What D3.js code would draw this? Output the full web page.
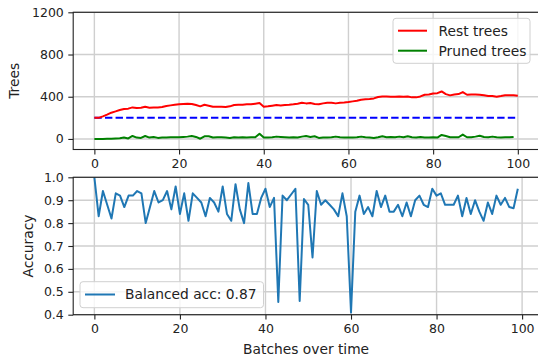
<!DOCTYPE html>
<html><head><meta charset="utf-8">
<script src="https://cdn.jsdelivr.net/npm/d3@7/dist/d3.min.js"></script>
<style>
html,body{margin:0;padding:0;background:#fff;overflow:hidden;}
svg{display:block;font-family:"DejaVu Sans",sans-serif;}
</style></head><body>
<svg id="c" width="538" height="362"></svg>
<script>
const restTrees = [200,200,214,230,249,261,274,283,287,299,293,296,305,296,299,299,302,312,318,324,328,331,334,331,321,309,324,315,305,305,305,302,309,321,324,324,328,328,334,340,305,309,315,321,318,321,324,328,334,343,337,340,331,328,337,343,343,337,343,346,350,356,362,372,375,378,384,397,403,403,400,400,403,400,403,394,394,403,419,422,431,434,450,425,413,422,425,444,419,422,422,419,413,406,406,400,406,413,413,413,409];
const prunedTrees = [0,0,0,2,3,5,6,13,5,28,13,10,28,13,19,10,13,13,16,16,16,19,22,28,19,2,25,25,13,16,16,13,10,16,13,16,13,16,16,50,13,13,16,22,19,16,13,16,13,22,28,19,25,10,13,13,16,22,16,13,13,13,16,22,16,13,10,16,25,16,19,16,22,16,25,16,13,19,13,13,16,13,38,28,16,16,16,41,16,16,22,31,19,16,22,16,13,16,16,19];
const threshold = 200;
const accuracy = [1.0,0.83,0.94,0.88,0.82,0.93,0.92,0.87,0.92,0.92,0.94,0.93,0.80,0.87,0.94,0.89,0.90,0.94,0.86,0.96,0.84,0.93,0.81,0.93,0.91,0.89,0.83,0.91,0.89,0.85,0.96,0.84,0.81,0.97,0.86,0.80,0.975,0.84,0.84,0.91,0.95,0.87,0.91,0.456,0.92,0.90,0.925,0.95,0.46,0.905,0.88,0.65,0.94,0.88,0.90,0.88,0.86,0.83,0.93,0.83,0.41,0.85,0.92,0.84,0.87,0.83,0.94,0.87,0.92,0.85,0.85,0.88,0.83,0.89,0.83,0.90,0.92,0.88,0.87,0.95,0.92,0.93,0.88,0.88,0.88,0.92,0.83,0.91,0.84,0.90,0.85,0.81,0.89,0.84,0.92,0.88,0.91,0.87,0.865,0.95];
const xTicks = [0,20,40,60,80,100];
const treeTicks = [0,400,800,1200];
const accTicks = [0.4,0.5,0.6,0.7,0.8,0.9,1.0];
const legendTop = ["Rest trees","Pruned trees"];
const legendBottom = "Balanced acc: 0.87";

const svg = d3.select("#c");
const L = 73.2, R = 539;
const gridColor = "#cfcfcf", spineColor = "#222";
const tickFont = "12.5px", labelFont = "13.8px";

function drawAxes(g, x, y, yTicks, fmt, top, bottom) {
  // grid
  g.append("g").selectAll("line").data(xTicks).join("line")
    .attr("x1", d=>x(d)).attr("x2", d=>x(d)).attr("y1", top).attr("y2", bottom)
    .attr("stroke", gridColor).attr("stroke-width", 1.4);
  g.append("g").selectAll("line").data(yTicks).join("line")
    .attr("x1", L).attr("x2", R).attr("y1", d=>y(d)).attr("y2", d=>y(d))
    .attr("stroke", gridColor).attr("stroke-width", 1.4);
}
function drawFrame(g, x, y, yTicks, fmt, top, bottom) {
  g.append("rect").attr("x", L).attr("y", top).attr("width", R-L).attr("height", bottom-top)
    .attr("fill","none").attr("stroke", spineColor).attr("stroke-width", 1.1);
  const xa = g.append("g").attr("transform", `translate(0,${bottom})`)
    .call(d3.axisBottom(x).tickValues(xTicks).tickSize(4.9).tickPadding(4.5).tickFormat(d3.format("d")));
  const ya = g.append("g").attr("transform", `translate(${L},0)`)
    .call(d3.axisLeft(y).tickValues(yTicks).tickSize(4.9).tickPadding(4.5).tickFormat(fmt));
  [xa, ya].forEach(a => {
    a.select(".domain").remove();
    a.selectAll("line").attr("stroke", spineColor).attr("stroke-width", 1.1);
    a.selectAll("text").attr("fill", "#222").style("font-size", tickFont).style("font-family", "DejaVu Sans");
  });
}

// ---------- top panel ----------
const t1 = 12.3, b1 = 149.5;
const x1 = d3.scaleLinear().domain([-5, 105]).range([L, R]);
const y1 = d3.scaleLinear().domain([-100, 1200]).range([b1, t1]);
const g1 = svg.append("g");
drawAxes(g1, x1, y1, treeTicks, null, t1, b1);
const line1 = d3.line().x((d,i)=>x1(i)).y(d=>y1(d));
g1.append("path").datum(prunedTrees).attr("d", line1).attr("fill","none")
  .attr("stroke","green").attr("stroke-width",2).attr("stroke-linejoin","round");
g1.append("path").datum(restTrees.map(()=>threshold)).attr("d", line1).attr("fill","none")
  .attr("stroke","blue").attr("stroke-width",2).attr("stroke-dasharray","7.4,3.2");
g1.append("path").datum(restTrees).attr("d", line1).attr("fill","none")
  .attr("stroke","red").attr("stroke-width",2).attr("stroke-linejoin","round");
drawFrame(g1, x1, y1, treeTicks, d3.format("d"), t1, b1);
svg.append("text").attr("transform", `translate(19,${(t1+b1)/2}) rotate(-90)`)
  .attr("text-anchor","middle").style("font-size", labelFont).attr("fill","#222").text("Trees");

// top legend
const lg1 = svg.append("g");
lg1.append("rect").attr("x",393).attr("y",18.3).attr("width",137).attr("height",45).attr("rx",3)
  .attr("fill","white").attr("fill-opacity",0.8).attr("stroke","#d0d0d0").attr("stroke-width",1);
const legColors = ["red","green"];
legendTop.forEach((t,i)=>{
  const yy = 30.7 + i*20;
  lg1.append("line").attr("x1",398).attr("x2",427).attr("y1",yy).attr("y2",yy)
    .attr("stroke",legColors[i]).attr("stroke-width",2);
  lg1.append("text").attr("x",438.5).attr("y",yy+4.8).style("font-size",labelFont).attr("fill","#222").text(t);
});

// ---------- bottom panel ----------
const t2 = 177.3, b2 = 314.7;
const x2 = d3.scaleLinear().domain([-4.95, 103.95]).range([L, R]);
const y2 = d3.scaleLinear().domain([0.4, 1.0]).range([b2, t2]);
const g2 = svg.append("g");
drawAxes(g2, x2, y2, accTicks, null, t2, b2);
const clip = svg.append("clipPath").attr("id","clip2").append("rect")
  .attr("x",L).attr("y",t2-1).attr("width",R-L).attr("height",b2-t2+1);
const line2 = d3.line().x((d,i)=>x2(i)).y(d=>y2(d));
g2.append("path").datum(accuracy).attr("d", line2).attr("fill","none").attr("clip-path","url(#clip2)")
  .attr("stroke","#1f77b4").attr("stroke-width",2).attr("stroke-linejoin","round");
drawFrame(g2, x2, y2, accTicks, d3.format(".1f"), t2, b2);
svg.append("text").attr("transform", `translate(33,${(t2+b2)/2}) rotate(-90)`)
  .attr("text-anchor","middle").style("font-size", labelFont).attr("fill","#222").text("Accuracy");
svg.append("text").attr("x",(L+R)/2).attr("y",354).attr("text-anchor","middle")
  .style("font-size", labelFont).attr("fill","#222").text("Batches over time");

// bottom legend
const lg2 = svg.append("g");
lg2.append("rect").attr("x",80).attr("y",281.7).attr("width",183.5).attr("height",26).attr("rx",3)
  .attr("fill","white").attr("fill-opacity",0.8).attr("stroke","#d0d0d0").attr("stroke-width",1);
lg2.append("line").attr("x1",85).attr("x2",115).attr("y1",294.5).attr("y2",294.5)
  .attr("stroke","#1f77b4").attr("stroke-width",2);
lg2.append("text").attr("x",125).attr("y",299.3).style("font-size",labelFont).attr("fill","#222").text(legendBottom);
</script>
</body></html>
